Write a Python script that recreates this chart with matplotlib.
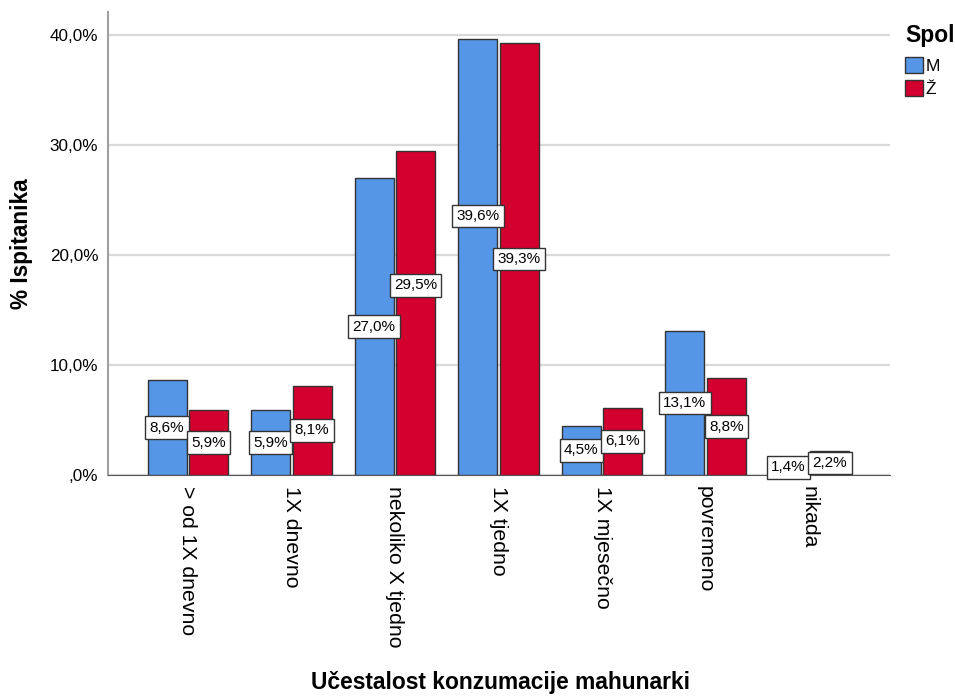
import numpy as np
import matplotlib.pyplot as plt

plt.rcParams['font.family'] = ['Liberation Sans', 'DejaVu Sans']

# === Data ===
categories = ['> od 1X dnevno', '1X dnevno', 'nekoliko X tjedno', '1X tjedno',
              '1X mjesečno', 'povremeno', 'nikada']
male = [8.6, 5.9, 27.0, 39.6, 4.5, 13.1, 1.4]
female = [5.9, 8.1, 29.5, 39.3, 6.1, 8.8, 2.2]
series_names = ['M', 'Ž']
colors = ['#5596E6', '#D3002F']

# labels that SPSS nudged upward to avoid overlapping (series, category) -> shift in %
label_nudge = {(1, 2): 2.5, (0, 3): 3.75}

fig = plt.figure(figsize=(9.55, 6.97), dpi=100)
ax = fig.add_axes([108 / 955, 1 - 475 / 697, (890 - 108) / 955, (475 - 12) / 697])

x = np.arange(len(categories))
w = 0.376
off = 0.2
for si, (vals, dx, col, name) in enumerate([(male, -off, colors[0], series_names[0]),
                                            (female, off, colors[1], series_names[1])]):
    bars = ax.bar(x + dx, vals, width=w, color=col, edgecolor='#333333',
                  linewidth=1.0, label=name, zorder=3)
    for ci, (b, v) in enumerate(zip(bars, vals)):
        y = v / 2 + label_nudge.get((si, ci), 0)
        ax.text(b.get_x() + b.get_width() / 2, y,
                f'{v:.1f}%'.replace('.', ','), ha='center', va='center',
                fontsize=11, zorder=5,
                bbox=dict(boxstyle='square,pad=0.28', fc='white', ec='#333333', lw=1.0))

ax.set_xlim(-0.77, 6.78)
ax.set_ylim(0, 42.1)
ax.set_yticks([0, 10, 20, 30, 40])
ax.set_yticklabels([',0%', '10,0%', '20,0%', '30,0%', '40,0%'], fontsize=12.3)
ax.set_xticks(x)
ax.set_xticklabels(categories, rotation=270, fontsize=15.3, va='top', ha='center')
ax.tick_params(axis='x', length=0, pad=8)
ax.tick_params(axis='y', length=0, pad=7)
ax.grid(axis='y', color='#d9d9d9', linewidth=1.6, zorder=0)
ax.set_axisbelow(True)

for s in ['top', 'right']:
    ax.spines[s].set_visible(False)
ax.spines['left'].set_color('#a0a0a0')
ax.spines['left'].set_linewidth(1.5)
ax.spines['bottom'].set_color('#555555')

ax.set_ylabel('% Ispitanika', fontsize=16.3, fontweight='bold', labelpad=12)
fig.text(500 / 955, 1 - 683 / 697, 'Učestalost konzumacije mahunarki',
         ha='center', va='center', fontsize=16.4, fontweight='bold')

leg = fig.legend(title='Spol', loc='upper left', bbox_to_anchor=(902 / 955, 1 - 21 / 697),
                 frameon=False, fontsize=12.5, handlelength=1.0, handleheight=1.0,
                 handletextpad=0.15, labelspacing=0.35, borderaxespad=0.0,
                 borderpad=0.2)
leg.get_title().set_fontweight('bold')
leg.get_title().set_fontsize(16.5)
leg._legend_box.align = 'left'
leg._legend_box.sep = 7

plt.savefig('out.png', dpi=100)
